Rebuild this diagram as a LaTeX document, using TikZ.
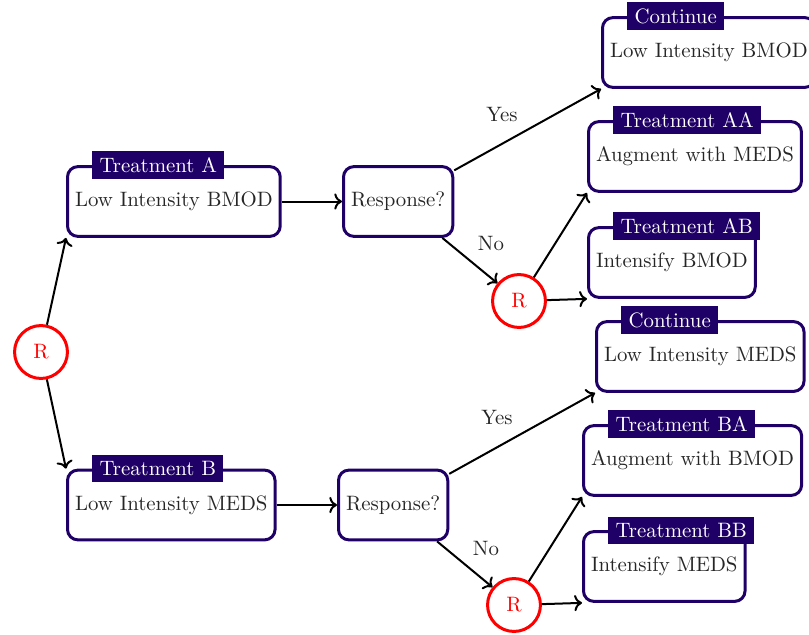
\documentclass[tikz,border=0pt]{standalone}
\usetikzlibrary{arrows.meta}
\definecolor{navy}{RGB}{31,0,102}
\begin{document}
\begin{tikzpicture}[x=0.48pt,y=-0.48pt,
  box/.style={draw=navy, line width=1.44pt, rounded corners=5pt, minimum height=33.5pt, inner xsep=3.6pt, anchor=west, text=black!85},
  title/.style={fill=navy, text=white, inner ysep=3pt, inner xsep=3.4pt, anchor=west},
  rnode/.style={circle, draw=red, line width=1.44pt, minimum size=25.4pt, text=red, inner sep=0pt},
  conn/.style={->, line width=0.96pt},
  lbl/.style={text=black!85}]
\useasboundingbox (0,0) rectangle (809,635);
% boxes
\node[box] (A) at (66,201.5) {Low Intensity BMOD};
\node[box] (RA) at (342,201.5) {Response?};
\node[box] (C1) at (601,52.5) {Low Intensity BMOD};
\node[box] (AA) at (587,156.5) {Augment with MEDS};
\node[box] (AB) at (587,262.5) {Intensify BMOD};
\node[box] (C2) at (595,356.5) {Low Intensity MEDS};
\node[box] (BA) at (582,460.5) {Augment with BMOD};
\node[box] (BB) at (582,566.5) {Intensify MEDS};
\node[box] (B) at (66,505) {Low Intensity MEDS};
\node[box] (RB) at (337,505) {Response?};
% randomisation circles
\node[rnode] (R0) at (41,352) {R};
\node[rnode] (R1) at (519,301) {R};
\node[rnode] (R2) at (514,605) {R};
% titles
\node[title] (tA) at ([xshift=12.5pt]A.north west) {Treatment A};
\node[title] (tB) at ([xshift=12.5pt]B.north west) {Treatment B};
\node[title] (tC1) at ([xshift=12.5pt]C1.north west) {Continue};
\node[title] (tAA) at ([xshift=12.5pt]AA.north west) {Treatment AA};
\node[title] (tAB) at ([xshift=12.5pt]AB.north west) {Treatment AB};
\node[title] (tC2) at ([xshift=12.5pt]C2.north west) {Continue};
\node[title] (tBA) at ([xshift=12.5pt]BA.north west) {Treatment BA};
\node[title] (tBB) at ([xshift=12.5pt]BB.north west) {Treatment BB};
% connectors
\draw[conn] (R0) -- (A.south west);
\draw[conn] (R0) -- (B.north west);
\draw[conn] (A) -- (RA);
\draw[conn] (B) -- (RB);
\draw[conn] (RA) -- (C1.south west);
\draw[conn] (RA) -- (R1);
\draw[conn] (R1) -- (AA.south west);
\draw[conn] (R1) -- (AB.south west);
\draw[conn] (RB) -- (C2.south west);
\draw[conn] (RB) -- (R2);
\draw[conn] (R2) -- (BA.south west);
\draw[conn] (R2) -- (BB.south west);
% edge labels
\node[lbl] (y1) at (502,114) {Yes};
\node[lbl] (n1) at (491,243) {No};
\node[lbl] (y2) at (497,417) {Yes};
\node[lbl] (n2) at (486,548) {No};
\end{tikzpicture}
\end{document}
